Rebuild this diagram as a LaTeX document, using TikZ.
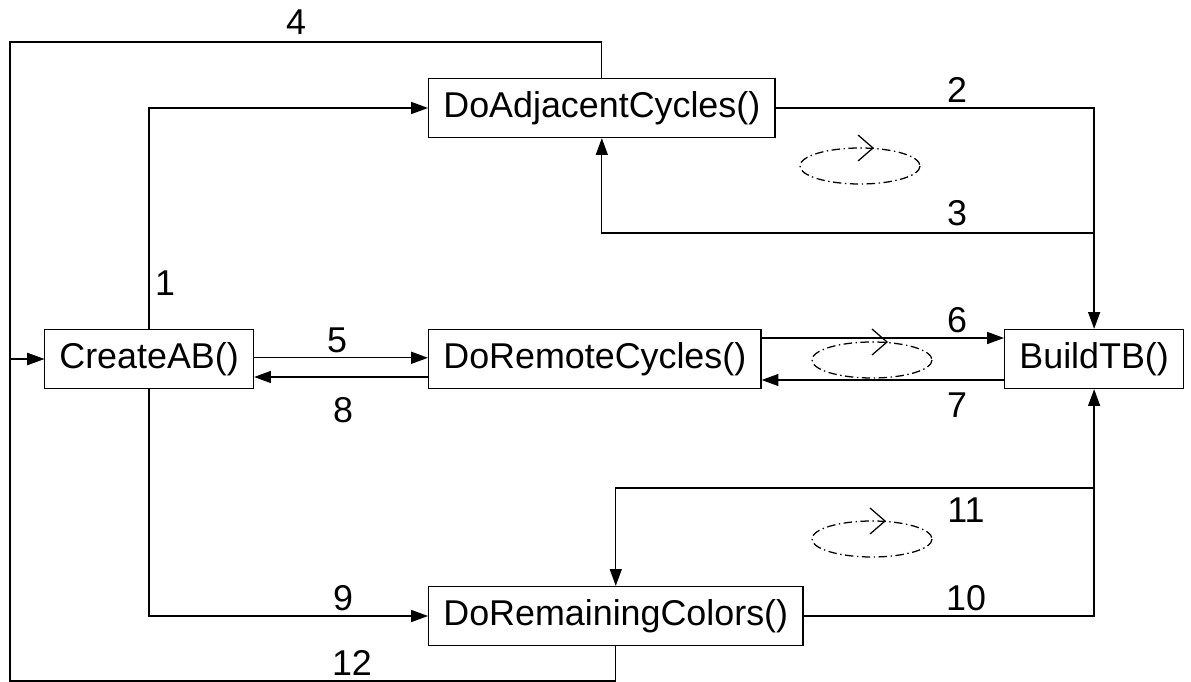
\documentclass[tikz,border=0pt]{standalone}
\usepackage{fontspec}
\setmainfont{Liberation Sans}
\usetikzlibrary{arrows.meta,positioning}

\begin{document}
\begin{tikzpicture}[x=0.025cm,y=-0.025cm,
	box/.style={rectangle,draw,line width=0.9pt,font=\fontsize{25.5}{30}\selectfont,inner xsep=10.5pt,minimum height=1.475cm,anchor=west},
	link/.style={draw,line width=0.9pt,-{Triangle[length=0.42cm,width=0.3cm]}},
	lbl/.style={font=\fontsize{25.5}{30}\selectfont,inner sep=0pt},
	cyc/.style={line width=0.9pt,dash pattern=on 6pt off 2.5pt on 1pt off 2.5pt},
	chev/.style={line width=0.9pt},
	]
	\useasboundingbox (0,0) rectangle (1191,682);
	% the five routines
	\node[box] (cab) at (44,359) {CreateAB()};
	\node[box] (dac) at (428,108) {DoAdjacentCycles()};
	\node[box] (drc) at (428,359) {DoRemoteCycles()};
	\node[box] (btb) at (1004,359) {BuildTB()};
	\node[box] (drm) at (428,616) {DoRemainingColors()};
	\coordinate (tl) at (10,42);
	\coordinate (bl) at (10,681);
	\coordinate (r3) at (btb.north |- 0,233);
	\coordinate (r11) at (btb.south |- 0,488);
	% calls
	\draw[link] (cab.north) |- (dac.west);
	\draw[link] (dac.east) -| (btb.north);
	\draw[link] (r3) -| (dac.south);
	\draw[link] (dac.north) |- (tl) |- (cab.west);
	\draw[link] ([yshift=0.03cm]cab.east) -- ([yshift=0.03cm]drc.west);
	\draw[link] ([yshift=0.525cm]drc.east) -- ([yshift=0.525cm]btb.west);
	\draw[link] ([yshift=-0.525cm]btb.west) -- ([yshift=-0.525cm]drc.east);
	\draw[link] ([yshift=-0.45cm]drc.west) -- ([yshift=-0.45cm]cab.east);
	\draw[link] (cab.south) |- (drm.west);
	\draw[link] (drm.east) -| (btb.south);
	\draw[link] (r11) -| (drm.north);
	\draw[link] (drm.south) |- (bl) |- (cab.west);
	% labels
	\node[lbl] (l1) at (165,283) {1};
	\node[lbl] (l2) at (957,90) {2};
	\node[lbl] (l3) at (957,213) {3};
	\node[lbl] (l4) at (296,22) {4};
	\node[lbl] (l5) at (337,340) {5};
	\node[lbl] (l6) at (957,320) {6};
	\node[lbl] (l7) at (957,405) {7};
	\node[lbl] (l8) at (343,410) {8};
	\node[lbl] (l9) at (343,598) {9};
	\node[lbl] (l10) at (966,598) {10};
	\node[lbl] (l11) at (966,510) {11};
	\node[lbl] (l12) at (352,663) {12};
	% loops
	\draw[cyc] (860,166) ellipse [x radius=60, y radius=18];
	\draw[chev] (858,135) -- (873,148) -- (858,161);
	\draw[cyc] (872,360) ellipse [x radius=60, y radius=18];
	\draw[chev] (872,329) -- (887,342) -- (872,355);
	\draw[cyc] (872,539) ellipse [x radius=60, y radius=18];
	\draw[chev] (870,508) -- (885,521) -- (870,534);
\end{tikzpicture}
\end{document}
